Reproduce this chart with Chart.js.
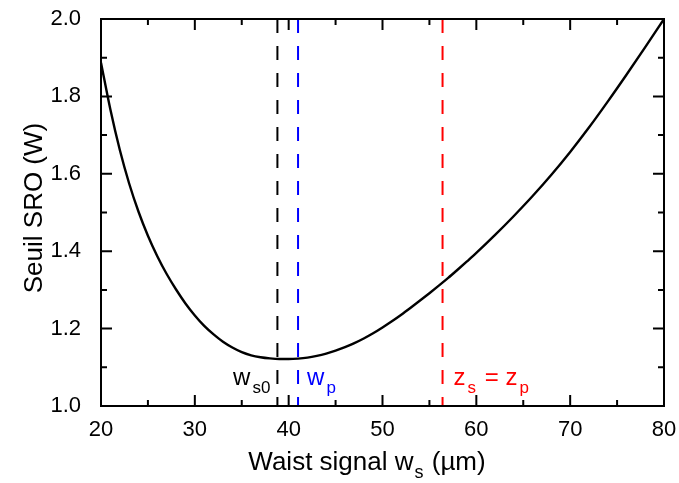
<!DOCTYPE html>
<html><head><meta charset="utf-8">
<script src="https://cdn.jsdelivr.net/npm/chart.js@4.4.0/dist/chart.umd.min.js"></script>
<style>html,body{margin:0;padding:0;background:#fff;}#wrap{width:679px;height:483px;position:relative;}</style>
</head><body><div id="wrap"><canvas id="c"></canvas></div>
<script>
// ---- data ----
const waist = [20, 21, 22, 23, 24, 25, 26, 27, 28, 29, 30, 31, 32, 33, 34, 35, 36, 37, 38, 39, 40, 41, 42, 43, 44, 45, 46, 47, 48, 49, 50, 51, 52, 53, 54, 55, 56, 57, 58, 59, 60, 62, 64, 66, 68, 70, 72, 74, 76, 78, 80];
const seuil = [1.887, 1.766, 1.662, 1.575, 1.502, 1.440, 1.387, 1.341, 1.301, 1.265, 1.234, 1.207, 1.185, 1.166, 1.151, 1.139, 1.131, 1.126, 1.123, 1.1215, 1.1215, 1.1225, 1.125, 1.1295, 1.1355, 1.143, 1.152, 1.1625, 1.1745, 1.188, 1.203, 1.219, 1.236, 1.254, 1.2725, 1.2915, 1.311, 1.331, 1.352, 1.3735, 1.3955, 1.442, 1.491, 1.5425, 1.5975, 1.6565, 1.7195, 1.7865, 1.856, 1.9275, 2.000];
const xTickValues = [20, 30, 40, 50, 60, 70, 80];
const yTickValues = [1.0, 1.2, 1.4, 1.6, 1.8, 2.0];
const markerWaist = [38.8, 41.0, 56.4];
const markerColors = ['#000000', '#0000ff', '#ff0000'];
const markerLabels = [
  [['w', false], ['s0', true]],
  [['w', false], ['p', true]],
  [['z', false], ['s', true], [' = z', false], ['p', true]]
];
const xTitle = [['Waist signal w', false], ['s', true], [' (µm)', false]];
const yTitle = 'Seuil SRO (W)';

const FONT = '"Liberation Sans", Arial, sans-serif';

const datasets = [{
  data: waist.map((w, i) => ({x: w, y: seuil[i]})),
  borderColor: '#000', borderWidth: 2.4, pointRadius: 0, showLine: true,
  cubicInterpolationMode: 'monotone', fill: false
}];
markerWaist.forEach((m, i) => {
  datasets.push({
    data: [{x: m, y: yTickValues[yTickValues.length - 1]}, {x: m, y: yTickValues[0]}],
    borderColor: markerColors[i], borderWidth: 2, borderDash: [14, 13],
    pointRadius: 0, showLine: true, fill: false
  });
});

function drawSegments(ctx, segs, x, y, mainSize, subSize, align, gap) {
  const widths = segs.map(([t, sub]) => {
    ctx.font = (sub ? subSize : mainSize) + 'px ' + FONT;
    return ctx.measureText(t).width + (sub ? gap : 0);
  });
  const total = widths.reduce((a, b) => a + b, 0);
  let cx = align === 'right' ? x - total : align === 'center' ? x - total / 2 : x;
  ctx.textAlign = 'left';
  ctx.textBaseline = 'alphabetic';
  segs.forEach(([t, sub], i) => {
    ctx.font = (sub ? subSize : mainSize) + 'px ' + FONT;
    ctx.fillText(t, cx + (sub ? gap / 2 : 0), sub ? y + 8 : y);
    cx += widths[i];
  });
}

const decor = {
  id: 'decor',
  afterDatasetsDraw(chart) {
    const {ctx, chartArea: a, scales: {x, y}} = chart;
    ctx.save();
    ctx.strokeStyle = '#000';
    ctx.lineWidth = 2;
    for (let v = 20; v <= 80.001; v += 5) {
      const px = x.getPixelForValue(v);
      const len = (Math.round(v) % 10 === 0) ? 11 : 6;
      ctx.beginPath();
      ctx.moveTo(px, a.bottom); ctx.lineTo(px, a.bottom - len);
      ctx.moveTo(px, a.top); ctx.lineTo(px, a.top + len);
      ctx.stroke();
    }
    for (let k = 0; k <= 10; k++) {
      const v = 1.0 + k * 0.1;
      const py = y.getPixelForValue(v);
      const len = (k % 2 === 0) ? 11 : 6;
      ctx.beginPath();
      ctx.moveTo(a.left, py); ctx.lineTo(a.left + len, py);
      ctx.moveTo(a.right, py); ctx.lineTo(a.right - len, py);
      ctx.stroke();
    }
    ctx.strokeRect(a.left, a.top, a.right - a.left, a.bottom - a.top);

    const base = y.getPixelForValue(1.0) - 21;
    const offsets = [[-5, 'right'], [9, 'left'], [11, 'left']];
    markerWaist.forEach((m, i) => {
      ctx.fillStyle = markerColors[i];
      drawSegments(ctx, markerLabels[i], x.getPixelForValue(m) + offsets[i][0], base, 24, 17, offsets[i][1], 4);
    });

    ctx.fillStyle = '#000';
    drawSegments(ctx, xTitle, 367, 470, 26, 18, 'center', 2);
    ctx.translate(42, 208);
    ctx.rotate(-Math.PI / 2);
    ctx.font = '26px ' + FONT;
    ctx.textAlign = 'center';
    ctx.textBaseline = 'alphabetic';
    ctx.fillText(yTitle, 0, 0);
    ctx.restore();
  }
};

new Chart(document.getElementById('c'), {
  type: 'scatter',
  data: {datasets},
  options: {
    responsive: true, maintainAspectRatio: false, animation: false,
    devicePixelRatio: 1,
    layout: {padding: {top: 19, right: 15, left: 0, bottom: 0}},
    plugins: {legend: {display: false}, tooltip: {enabled: false}},
    scales: {
      x: {
        type: 'linear', min: 20, max: 80,
        afterBuildTicks: s => { s.ticks = xTickValues.map(v => ({value: v})); },
        ticks: {color: '#000', font: {size: 22, family: FONT}, padding: 3, maxRotation: 0, autoSkip: false},
        grid: {display: false}, border: {display: false},
        afterFit: s => { s.height = 77; s.paddingLeft = 0; s.paddingRight = 0; }
      },
      y: {
        type: 'linear', min: 1.0, max: 2.0,
        afterBuildTicks: s => { s.ticks = yTickValues.map(v => ({value: v})); },
        ticks: {color: '#000', font: {size: 22, family: FONT}, padding: 12, autoSkip: false,
          callback: v => Number(v).toFixed(1)},
        grid: {display: false}, border: {display: false},
        afterFit: s => { s.width = 101; s.paddingTop = 0; s.paddingBottom = 0; }
      }
    }
  },
  plugins: [decor]
});
</script>
</body></html>
